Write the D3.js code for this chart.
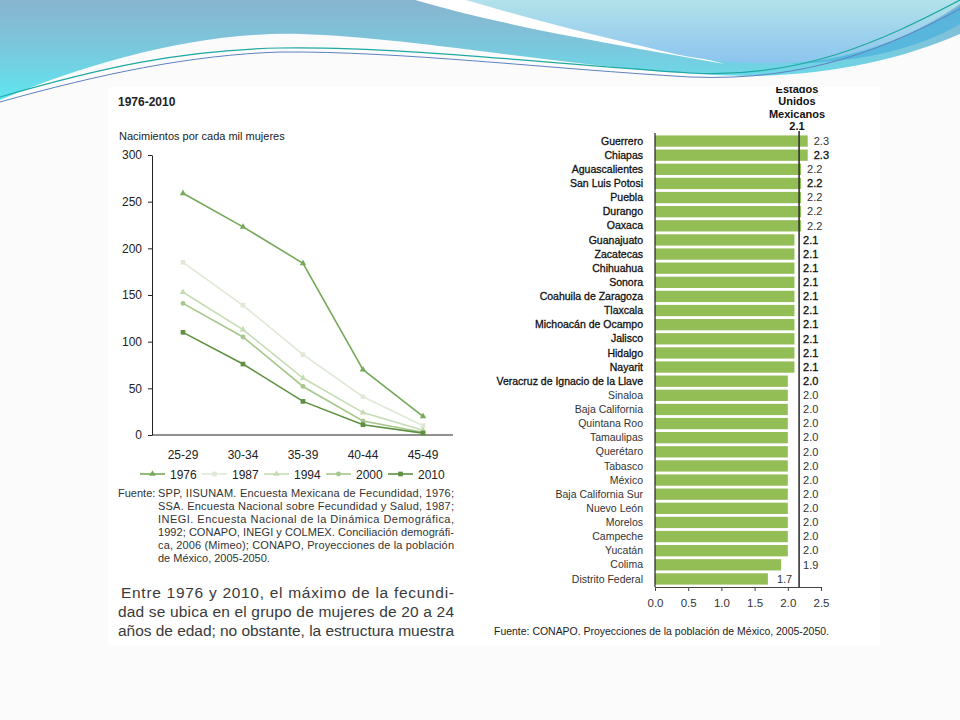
<!DOCTYPE html>
<html>
<head>
<meta charset="utf-8">
<script src="https://cdn.jsdelivr.net/npm/d3@7"></script>
<style>
  body { margin: 0; background: #fbfbfb; }
  svg { display: block; font-family: "Liberation Sans", Arial, sans-serif; }
</style>
</head>
<body>
<div id="slide"></div>
<script>
// fecundidad por edad (izq) y TGF por entidad (der)

var ageGroups = ["25-29", "30-34", "35-39", "40-44", "45-49"];
var years = ["1976", "1987", "1994", "2000", "2010"];
var rates1976 = [259, 223, 184, 70, 20];
var rates1987 = [185, 139, 86, 41, 10];
var rates1994 = [153, 113, 61, 24, 5];
var rates2000 = [141, 105, 52, 15, 3];
var rates2010 = [110, 76, 36, 11, 2];
var rateTicks = [0, 50, 100, 150, 200, 250, 300];

var states = ["Guerrero", "Chiapas", "Aguascalientes", "San Luis Potosi", "Puebla", "Durango", "Oaxaca",
  "Guanajuato", "Zacatecas", "Chihuahua", "Sonora", "Coahuila de Zaragoza", "Tlaxcala",
  "Michoacán de Ocampo", "Jalisco", "Hidalgo", "Nayarit", "Veracruz de Ignacio de la Llave",
  "Sinaloa", "Baja California", "Quintana Roo", "Tamaulipas", "Querétaro", "Tabasco", "México",
  "Baja California Sur", "Nuevo León", "Morelos", "Campeche", "Yucatán", "Colima", "Distrito Federal"];
var tgf = [2.3, 2.3, 2.2, 2.2, 2.2, 2.2, 2.2,
  2.1, 2.1, 2.1, 2.1, 2.1, 2.1, 2.1, 2.1, 2.1, 2.1, 2.0,
  2.0, 2.0, 2.0, 2.0, 2.0, 2.0, 2.0, 2.0, 2.0, 2.0, 2.0, 2.0, 1.9, 1.7];
var nationalTgf = 2.17;
var nationalLabel = ["Estados", "Unidos", "Mexicanos", "2.1"];
var tgfTicks = [0, 0.5, 1.0, 1.5, 2.0, 2.5];

var fuenteLeft = [
  "SPP, IISUNAM. Encuesta Mexicana de Fecundidad, 1976;",
  "SSA. Encuesta Nacional sobre Fecundidad y Salud, 1987;",
  "INEGI. Encuesta Nacional de la Dinámica Demográfica,",
  "1992; CONAPO, INEGI y COLMEX. Conciliación demográfi-",
  "ca, 2006 (Mimeo);   CONAPO, Proyecciones de la población",
  "de México, 2005-2050."
];
var paragraph = [
  "Entre 1976 y 2010, el máximo de la fecundi-",
  "dad se ubica en el grupo de mujeres de 20 a 24",
  "años de edad; no obstante, la estructura muestra"
];

var w_width = 960, w_height = 720;

var svg = d3.select("#slide").append("svg")
  .attr("width", w_width)
  .attr("height", w_height)

var defs = svg.append("defs")

function vGrad(id, stops) {
  var g = defs.append("linearGradient").attr("id", id)
    .attr("x1", 0).attr("y1", 0).attr("x2", 0).attr("y2", 1)
  stops.forEach(function(s) {
    g.append("stop").attr("offset", s[0]).attr("stop-color", s[1])
  })
}
vGrad("gA", [[0, "#88b4cf"], [0.45, "#7cc6dc"], [1, "#5fe6f0"]])
vGrad("gB", [[0, "#b2e2ea"], [1, "#8cc4ee"]])

// ---- decoracion de la diapositiva ----
var deco = svg.append("g")
deco.append("path")
  .attr("d", "M0,0 H960 V34 C900,60 830,75 750,76 C600,74 430,38 300,34 C200,31 90,62 0,100 Z")
  .attr("fill", "url(#gA)")
deco.append("path")
  .attr("d", "M415,0 C500,25 600,42 725,64 C640,42 560,22 468,0 Z")
  .attr("fill", "#ffffff")
deco.append("path")
  .attr("d", "M466,0 H960 V4 C920,32 860,60 780,63 C720,64 690,58 650,48 C580,32 520,16 466,0 Z")
  .attr("fill", "url(#gB)")
deco.append("path")
  .attr("d", "M960,6 C910,38 860,58 790,64 C870,62 925,45 960,24 Z")
  .attr("fill", "#4fb3dd").attr("opacity", 0.8)
deco.append("path")
  .attr("d", "M0,97 C100,68 180,50 280,48 C400,46 550,64 690,73 C800,79 880,42 960,0")
  .attr("fill", "none").attr("stroke", "#1fa9a2").attr("stroke-width", 1.2)
deco.append("path")
  .attr("d", "M0,102 C100,74 190,55 280,52 C400,51 550,69 690,77 C810,82 890,46 960,9")
  .attr("fill", "none").attr("stroke", "#5f82c2").attr("stroke-width", 1)

svg.append("rect").attr("x", 108).attr("y", 87).attr("width", 772).attr("height", 558)
  .attr("fill", "#ffffff")

// ---- grafica izquierda ----
var left = svg.append("g")
var x = d3.scalePoint().domain(ageGroups).range([183, 423])
var y = d3.scaleLinear().domain([0, 300]).range([435, 155])

left.append("text").text("1976-2010").attr("x", 118).attr("y", 106)
  .attr("font-size", 12).attr("font-weight", "bold").attr("fill", "#222")
left.append("text").text("Nacimientos por cada mil mujeres").attr("x", 119).attr("y", 140)
  .attr("font-size", 11).attr("fill", "#222")

var yAxis = left.append("g").attr("transform", "translate(152,0)")
  .call(d3.axisLeft(y).tickValues(rateTicks).tickSize(4).tickSizeOuter(0).tickPadding(6))
yAxis.select(".domain").attr("stroke", "#222")
yAxis.selectAll(".tick line").attr("stroke", "#222")
yAxis.selectAll("text").attr("font-size", 12).attr("fill", "#222").attr("font-family", "Liberation Sans")

left.append("line").attr("x1", 152).attr("x2", 453).attr("y1", y(0)).attr("y2", y(0))
  .attr("stroke", "#222").attr("stroke-width", 1)
left.selectAll(".xlab").data(ageGroups).enter().append("text")
  .attr("x", function(d) { return x(d) }).attr("y", 459)
  .attr("text-anchor", "middle").attr("font-size", 12).attr("fill", "#222")
  .text(function(d) { return d })

var series = [
  { year: years[0], values: rates1976, color: "#77a95a", sym: d3.symbolTriangle },
  { year: years[1], values: rates1987, color: "#dfe9d6", sym: d3.symbolSquare },
  { year: years[2], values: rates1994, color: "#c6dcb3", sym: d3.symbolTriangle },
  { year: years[3], values: rates2000, color: "#a6c78c", sym: d3.symbolCircle },
  { year: years[4], values: rates2010, color: "#5e9042", sym: d3.symbolSquare }
]

var line = d3.line()
  .x(function(d, i) { return x(ageGroups[i]) })
  .y(function(d) { return y(d) })

// dibujar de la mas clara a la mas oscura
var order = [1, 2, 3, 4, 0]
order.forEach(function(k) {
  var s = series[k]
  left.append("path").datum(s.values).attr("d", line)
    .attr("fill", "none").attr("stroke", s.color).attr("stroke-width", 1.6)
  left.selectAll(".m" + k).data(s.values).enter().append("path")
    .attr("d", d3.symbol().type(s.sym).size(s.sym === d3.symbolSquare ? 22 : 18))
    .attr("transform", function(d, i) { return "translate(" + x(ageGroups[i]) + "," + y(d) + ")" })
    .attr("fill", s.color)
})

var legend = left.selectAll(".leg").data(series).enter().append("g")
  .attr("transform", function(d, i) { return "translate(" + (140 + i * 62) + ",474)" })
legend.append("line").attr("x1", 0).attr("x2", 25).attr("y1", 0).attr("y2", 0)
  .attr("stroke", function(d) { return d.color }).attr("stroke-width", 1.6)
legend.append("path")
  .attr("d", function(d) { return d3.symbol().type(d.sym).size(d.sym === d3.symbolSquare ? 22 : 18)() })
  .attr("transform", "translate(12.5,0)")
  .attr("fill", function(d) { return d.color })
legend.append("text").text(function(d) { return d.year })
  .attr("x", 30).attr("y", 4.5).attr("font-size", 12).attr("fill", "#222")

left.append("text").text("Fuente:").attr("x", 118).attr("y", 497)
  .attr("font-size", 11).attr("fill", "#333")
left.selectAll(".fuente").data(fuenteLeft).enter().append("text")
  .attr("x", 158).attr("y", function(d, i) { return 497 + i * 12.9 })
  .attr("font-size", 11).attr("fill", "#333")
  .each(function(d, i) {
    if (i < fuenteLeft.length - 1) d3.select(this).attr("textLength", 296).attr("lengthAdjust", "spacing")
  })
  .text(function(d) { return d })

left.selectAll(".par").data(paragraph).enter().append("text")
  .attr("x", function(d, i) { return i == 0 ? 121 : 118 })
  .attr("y", function(d, i) { return 598 + i * 19 })
  .attr("font-size", 15.5).attr("fill", "#3a3a3a")
  .attr("textLength", function(d, i) { return i == 0 ? 333 : 336 }).attr("lengthAdjust", "spacing")
  .text(function(d) { return d })

// ---- grafica derecha ----
defs.append("clipPath").attr("id", "panelClip")
  .append("rect").attr("x", 470).attr("y", 87).attr("width", 410).attr("height", 560)
var right = svg.append("g").attr("clip-path", "url(#panelClip)")

var xb = d3.scaleLinear().domain([0, 2.5]).range([655, 821])
var yb = d3.scaleBand().domain(states).range([134, 586]).paddingInner(0.2).paddingOuter(0.1)

right.selectAll(".bar").data(states).enter().append("rect")
  .attr("x", xb(0)).attr("y", function(d) { return yb(d) })
  .attr("width", function(d, i) { return xb(tgf[i]) - xb(0) })
  .attr("height", yb.bandwidth())
  .attr("fill", "#93bd55")

var boldRows = 18
right.selectAll(".cat").data(states).enter().append("text")
  .attr("x", 643).attr("y", function(d) { return yb(d) + yb.bandwidth() / 2 + 3.6 })
  .attr("text-anchor", "end").attr("font-size", 10.5)
  .attr("fill", function(d, i) { return i < boldRows ? "#111" : "#333" })
  .attr("stroke", function(d, i) { return i < boldRows ? "#111" : "none" })
  .attr("stroke-width", 0.3)
  .text(function(d) { return d })

var xRef = xb(nationalTgf)
function valueX(v) {
  if (v > nationalTgf) return xb(v) + 6
  if (xRef - xb(v) > 25) return xb(v) + 9
  return xRef + 4
}
var boldValues = [1, 3, 7, 8, 9, 10, 11, 12, 13, 14, 15, 16, 17]
right.selectAll(".val").data(tgf).enter().append("text")
  .attr("x", function(d) { return valueX(d) })
  .attr("y", function(d, i) { return yb(states[i]) + yb.bandwidth() / 2 + 3.8 })
  .attr("font-size", 11)
  .attr("fill", function(d, i) { return boldValues.indexOf(i) >= 0 ? "#111" : "#333" })
  .attr("stroke", function(d, i) { return boldValues.indexOf(i) >= 0 ? "#111" : "none" })
  .attr("stroke-width", 0.3)
  .text(function(d) { return d3.format(".1f")(d) })

right.append("line").attr("x1", xRef).attr("x2", xRef).attr("y1", 131).attr("y2", 587)
  .attr("stroke", "#333").attr("stroke-width", 1.6)

right.selectAll(".nat").data(nationalLabel).enter().append("text")
  .attr("x", 797).attr("y", function(d, i) { return 93 + i * 12.3 })
  .attr("text-anchor", "middle").attr("font-size", 11).attr("font-weight", "bold").attr("fill", "#111")
  .text(function(d) { return d })

right.append("line").attr("x1", xb(0)).attr("x2", xb(0)).attr("y1", 133).attr("y2", 587)
  .attr("stroke", "#222").attr("stroke-width", 1.2)
var xAxisB = right.append("g").attr("transform", "translate(0,587)")
  .call(d3.axisBottom(xb).tickValues(tgfTicks).tickFormat(d3.format(".1f")).tickSize(4).tickSizeOuter(0).tickPadding(8))
xAxisB.select(".domain").attr("stroke", "#444")
xAxisB.selectAll(".tick line").attr("stroke", "#444")
xAxisB.selectAll("text").attr("font-size", 11.5).attr("fill", "#333").attr("font-family", "Liberation Sans")

right.append("text").text("Fuente: CONAPO. Proyecciones de la población de México, 2005-2050.")
  .attr("x", 494).attr("y", 635).attr("font-size", 10.5).attr("fill", "#222")
  .attr("textLength", 335).attr("lengthAdjust", "spacingAndGlyphs")
</script>
</body>
</html>
